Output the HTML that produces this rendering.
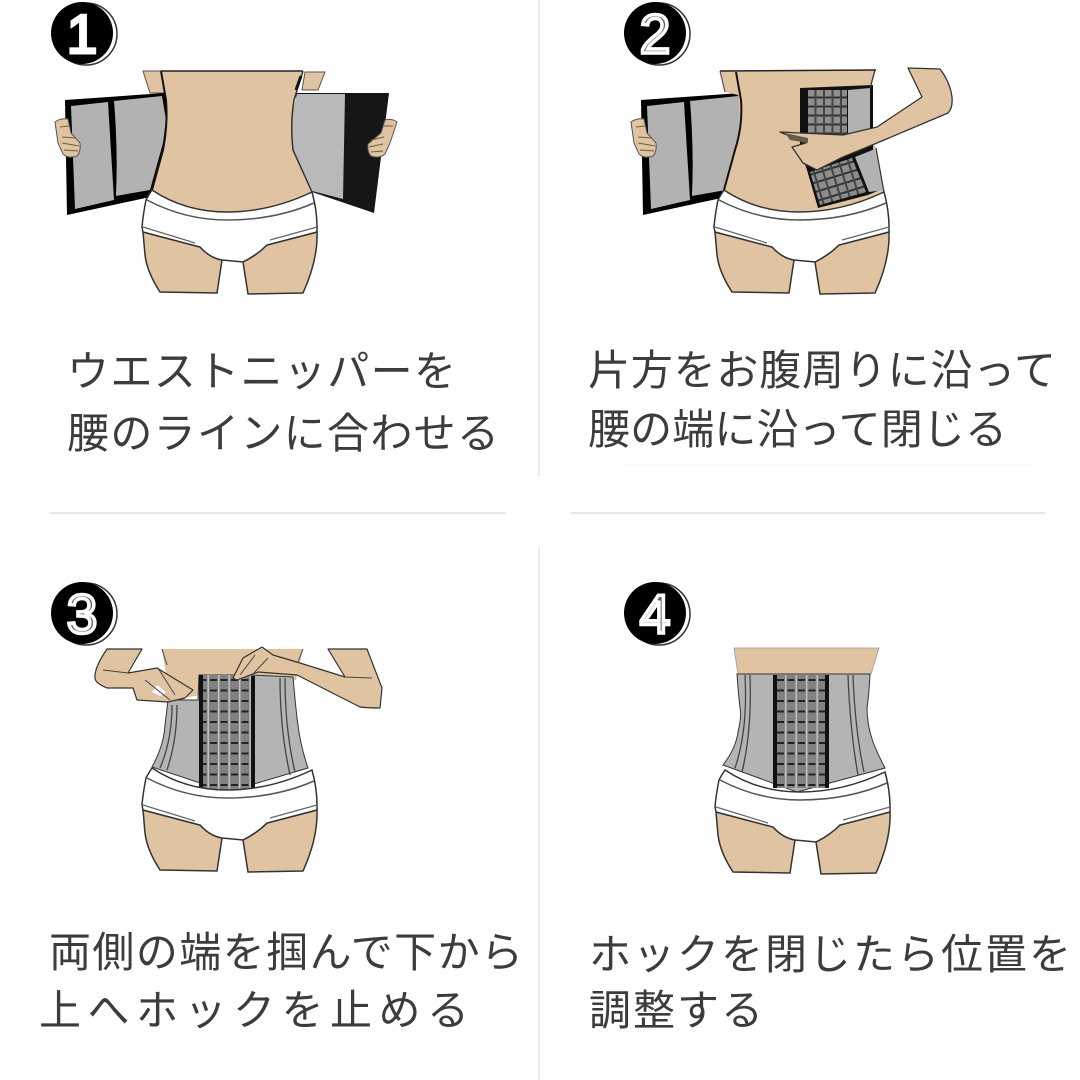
<!DOCTYPE html>
<html>
<head>
<meta charset="utf-8">
<style>
html,body{margin:0;padding:0;background:#fff;width:1080px;height:1080px;overflow:hidden}
svg{display:block}
text.t{font-family:"Liberation Sans","Noto Sans CJK JP",sans-serif;font-size:42px;fill:#3c3c3c}
text.n{font-family:"Liberation Sans",sans-serif;font-size:55px;text-anchor:middle;fill:#fff}
</style>
</head>
<body>
<svg width="1080" height="1080" viewBox="0 0 1080 1080" xmlns="http://www.w3.org/2000/svg">
<defs>
  <pattern id="g1" width="8.5" height="9" patternUnits="userSpaceOnUse" patternTransform="translate(808,90)">
    <rect width="8.5" height="9" fill="#8d8d8d"/>
    <rect y="6.5" width="8.5" height="2" fill="#333"/>
    <rect x="6.5" width="2" height="9" fill="#444"/>
  </pattern>
  <pattern id="g2" width="10.5" height="10.5" patternUnits="userSpaceOnUse">
    <rect width="10.5" height="10.5" fill="#828282"/>
    <rect y="7" width="7" height="2" fill="#222"/>
    <rect x="8" width="1.4" height="10.5" fill="#c4c4c4"/>
  </pattern>
  <pattern id="g3" width="9" height="9" patternUnits="userSpaceOnUse" patternTransform="rotate(-17)">
    <rect width="9" height="9" fill="#8d8d8d"/>
    <rect y="7" width="9" height="2" fill="#333"/>
    <rect x="7" width="2" height="9" fill="#444"/>
  </pattern>
  <g id="low">
    <path d="M143 232L200 247Q210 258 222 260L217 293L160 292Q147 272 145 255Z" fill="#e0c4a2" stroke="#333" stroke-width="1.5"/>
    <path d="M243 262Q257 255 267 245L317 232Q318 260 303 293L248 294Z" fill="#e0c4a2" stroke="#333" stroke-width="1.5"/>
    <path d="M152 190Q148 196 146 200Q143 215 142 227L143 232L200 247Q210 258 222 260L243 262Q257 255 267 245L317 232L317 227Q317 210 312 192Q270 212 227 212Q185 212 152 190Z" fill="#fff" stroke="#333" stroke-width="1.5"/>
    <path d="M147 200Q185 220 227 220Q275 220 314 203" fill="none" stroke="#555" stroke-width="1.5"/>
    <path d="M143 227L195 243M317 227L270 240" fill="none" stroke="#666" stroke-width="1.2"/>
  </g>
  <g id="hand">
    <path d="M55 122Q60 118 68 119L71 133L80 143Q81 152 77 156Q68 159 63 154L58 143Z" fill="#e0c4a2" stroke="#555" stroke-width="1"/>
    <path d="M60 127L69 126M62 137L76 138M62 143L79 146M64 150L78 151" stroke="#6b5a45" stroke-width="1" fill="none"/>
  </g>
  <g id="lp">
    <path d="M65 100L165 93L168 120L163 150L150 197L67 215Z" fill="#000"/>
    <path d="M71 106L108 102L114 200L75 209Z" fill="#b2b2b2"/>
    <path d="M114 101L162 96L166 120L163 143L150 190L116 196Q118 150 114 101Z" fill="#b2b2b2"/>
  </g>
</defs>

<!-- dividers -->
<g stroke="#dcdcdc" stroke-width="1.2">
  <line x1="539" y1="0" x2="539" y2="476"/>
  <line x1="539" y1="547" x2="539" y2="1080"/>
  <line x1="49" y1="513" x2="506" y2="513"/>
  <line x1="571" y1="513" x2="1045" y2="513"/>
</g>
<line x1="625" y1="465" x2="1030" y2="465" stroke="#f3f3f3" stroke-width="1"/>

<!-- Panel 1 -->
<path d="M143 71L161 71L166 93L150 93Z" fill="#e0c4a2" stroke="#555" stroke-width="1"/>
<path d="M325 72L305 72L302 90L318 90Z" fill="#e0c4a2" stroke="#555" stroke-width="1"/>
<use href="#lp"/>
<use href="#hand"/>
<path d="M295 93L389 93L374 213L312 192Z" fill="#161616"/>
<path d="M297 94L345 94L343 199L312 191L293 150L291 117Z" fill="#b9b9b9"/>
<path d="M397 122Q392 118 385 120L381 133L368 144Q367 152 371 156Q380 159 385 154L390 143Z" fill="#e0c4a2" stroke="#555" stroke-width="1"/>
<path d="M393 126L384 126M384 137L371 140M383 144L369 147M383 151L371 152" stroke="#6b5a45" stroke-width="1" fill="none"/>
<path d="M161 71L303 71L294 100Q290 125 293 150L312 192Q270 212 227 212Q185 212 152 190L163 150Q168 125 166 100Z" fill="#e0c4a2"/>
<path d="M161 71L303 71" stroke="#222" stroke-width="1.5"/>
<path d="M161 71L166 100Q168 125 163 150L152 190" fill="none" stroke="#111" stroke-width="2"/>
<path d="M303 71L294 100Q290 125 293 150L312 192" fill="none" stroke="#333" stroke-width="1.5"/>
<path d="M301 76L296 90" stroke="#111" stroke-width="3"/>
<use href="#low"/>

<!-- Panel 2 -->
<g transform="translate(576,0)"><use href="#lp"/><use href="#hand"/></g>
<path d="M720 71L876 70L870 92Q868 125 876 150L884 192Q845 212 800 212Q760 212 724 190L735 150Q742 125 738 95L725 92Z" fill="#e0c4a2"/>
<path d="M720 71L876 70" stroke="#222" stroke-width="1.5"/>
<path d="M720 71L725 92" stroke="#555" stroke-width="1.2" fill="none"/>
<path d="M736 72L741 100Q743 125 735 150L724 190" fill="none" stroke="#111" stroke-width="2"/>
<path d="M800 88L873 85L873 150L880 190L868 195L818 208L807 170L800 150Z" fill="#111"/>
<rect x="808" y="90" width="39" height="46" fill="url(#g1)"/>
<path d="M848 90L870 88L870 135L848 136Z" fill="#b2b2b2"/>
<path d="M810 172L852 158L866 192L820 205Z" fill="url(#g3)"/>
<path d="M855 157L875 149L884 190L869 192Z" fill="#b2b2b2"/>
<path d="M908 68L940 69Q950 82 952 97Q953 108 948 113L877 143L843 157L817 170L803 163L792 147L806 143L780 132L843 135L877 127L922 97Z" fill="#e0c4a2" stroke="#333" stroke-width="1.3" stroke-linejoin="round"/>
<path d="M785 133L808 138L808 143L790 140Z" fill="#6b5a45"/>
<path d="M875 70L870 88M876 148L884 192" fill="none" stroke="#333" stroke-width="1.2"/>
<use href="#low" transform="translate(572,0)"/>

<!-- Panel 3 -->
<path d="M162 649L303 649L296 680L170 700Z" fill="#e0c4a2"/>
<path d="M162 649L167 665M303 649L298 662" stroke="#444" stroke-width="1" fill="none"/>
<path d="M168 700L198 700L199 675L251 675L293 677Q295 700 297 718Q300 745 308 768L227 792L152 767Q164 745 165 725Z" fill="#b4b4b4" stroke="#333" stroke-width="1"/>
<path d="M172 705Q172 740 160 768M177 705Q177 740 167 770M280 678Q280 730 290 775M285 678Q285 730 295 772" fill="none" stroke="#444" stroke-width="1.3"/>
<rect x="199" y="675" width="52" height="115" fill="url(#g2)"/>
<rect x="199" y="675" width="4" height="115" fill="#111"/>
<rect x="251" y="676" width="4" height="114" fill="#111"/>
<path d="M107 649L142 649L128 673L157 668L193 690L185 698L168 702L137 700L133 688L107 688Q95 683 95 678Q94 668 107 649Z" fill="#e0c4a2" stroke="#333" stroke-width="1.2" stroke-linejoin="round"/>
<path d="M157 685L166 692L160 696L152 692Z" fill="#fff"/>
<path d="M158 668L175 695M145 680L170 700M103 670L128 673" fill="none" stroke="#444" stroke-width="1"/>
<path d="M328 649L367 649L382 688L380 708Q368 708 360 707L297 675L258 672L250 675L237 680L233 678L243 658L262 647L273 655L300 663L345 677Z" fill="#e0c4a2" stroke="#333" stroke-width="1.2" stroke-linejoin="round"/>
<path d="M345 677L372 678M255 655L240 675M268 658L252 675" fill="none" stroke="#444" stroke-width="1"/>
<use href="#low" transform="translate(0,578)"/>

<!-- Panel 4 -->
<path d="M734 648L879 648L871 674L738 674Z" fill="#e0c4a2" stroke="#999" stroke-width=".8"/>
<path d="M737 674L870 674Q869 695 867 708Q867 725 873 742Q878 755 885 768L797 792L723 765Q736 748 738 732Q742 715 740 708Q738 690 737 674Z" fill="#b4b4b4" stroke="#333" stroke-width="1"/>
<path d="M745 675Q748 730 735 768M750 675Q752 730 742 772M848 675Q850 730 858 775M853 675Q855 730 864 772" fill="none" stroke="#444" stroke-width="1.3"/>
<rect x="773" y="675" width="55" height="113" fill="url(#g2)"/>
<rect x="773" y="675" width="4" height="113" fill="#111"/>
<rect x="825" y="675" width="4" height="113" fill="#111"/>
<use href="#low" transform="translate(573,580)"/>

<!-- Badges -->
<g stroke="#333" stroke-width="1.5" fill="#fff">
  <circle cx="86" cy="34" r="31"/>
  <circle cx="659" cy="34" r="31"/>
  <circle cx="86" cy="614" r="31"/>
  <circle cx="659" cy="614" r="31"/>
</g>
<g fill="#000">
  <circle cx="82" cy="33" r="31"/>
  <circle cx="655" cy="33" r="31"/>
  <circle cx="82" cy="613" r="31"/>
  <circle cx="655" cy="613" r="31"/>
</g>
<text class="n" x="82" y="53" style="stroke:#fff;stroke-width:3">1</text>
<text class="n" x="655" y="53" style="fill:#666;stroke:#fff;stroke-width:3.5">2</text>
<text class="n" x="82" y="633" style="fill:#666;stroke:#fff;stroke-width:3.5">3</text>
<text class="n" x="655" y="633" style="fill:#666;stroke:#fff;stroke-width:3.5">4</text>

<!-- Labels -->
<text class="t" x="67" y="386" textLength="389" lengthAdjust="spacing">ウエストニッパーを</text>
<text class="t" x="67" y="448" textLength="432" lengthAdjust="spacing">腰のラインに合わせる</text>
<text class="t" x="588" y="385" textLength="468" lengthAdjust="spacing">片方をお腹周りに沿って</text>
<text class="t" x="588" y="444" textLength="419" lengthAdjust="spacing">腰の端に沿って閉じる</text>
<text class="t" x="49" y="967" textLength="474" lengthAdjust="spacing">両側の端を掴んで下から</text>
<text class="t" x="39" y="1025" textLength="430" lengthAdjust="spacing">上へホックを止める</text>
<text class="t" x="589" y="969" textLength="482" lengthAdjust="spacing">ホックを閉じたら位置を</text>
<text class="t" x="589" y="1025" textLength="174" lengthAdjust="spacing">調整する</text>
</svg>
</body>
</html>
